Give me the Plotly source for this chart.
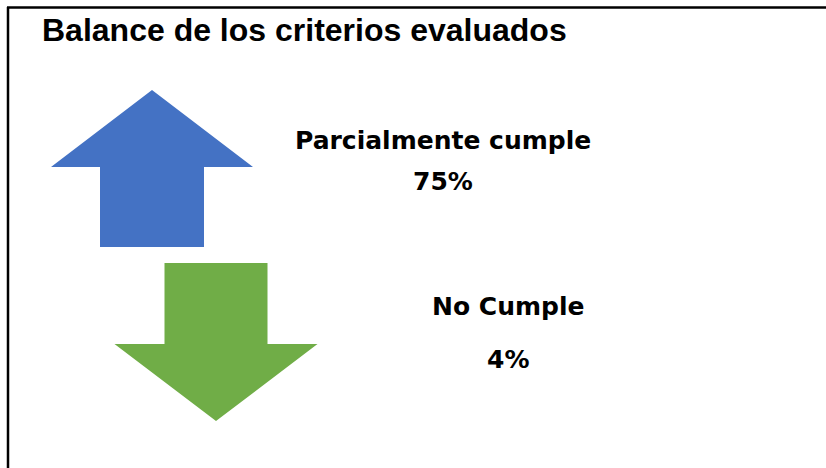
import plotly.graph_objects as go

# Data
categories = ["Parcialmente cumple", "No Cumple"]
values = [75, 4]
directions = ["up", "down"]
title_text = "Balance de los criterios evaluados"

# Styles / layout
colors = ["#4472C4", "#70AD47"]
W, H = 826, 468
# arrow geometry: (center x, tip y, base y, head base y, head half width, shaft half width)
arrow_geom = [
    (152, 90, 247, 167, 101, 52),
    (216, 421, 263, 344, 101.5, 51.5),
]
label_pos = [((443, 140), (443, 181)), ((508, 306), (508, 359))]
label_font = dict(family="DejaVu Sans", size=25, color="black")

fig = go.Figure()
for cat, val, d, col, g in zip(categories, values, directions, colors, arrow_geom):
    cx, tip, base, hb, hw, sw = g
    xs = [cx, cx + hw, cx + sw, cx + sw, cx - sw, cx - sw, cx - hw, cx]
    ys = [tip, hb, hb, base, base, hb, hb, tip]
    fig.add_trace(go.Scatter(x=xs, y=ys, fill="toself", fillcolor=col,
                             mode="lines", line=dict(width=0, color=col),
                             hoverinfo="skip", showlegend=False, name=cat))

for cat, val, (p1, p2) in zip(categories, values, label_pos):
    fig.add_annotation(x=p1[0], y=p1[1], text=f"<b>{cat}</b>", showarrow=False,
                       font=label_font, xanchor="center", yanchor="middle")
    fig.add_annotation(x=p2[0], y=p2[1], text=f"<b>{val}%</b>", showarrow=False,
                       font=label_font, xanchor="center", yanchor="middle")

fig.add_annotation(x=40, y=30, text=f"<b>{title_text}</b>", showarrow=False,
                   font=dict(family="Liberation Sans", size=32, color="black"),
                   xanchor="left", yanchor="middle")

fig.add_shape(type="line", x0=7, x1=W, y0=7.5, y1=7.5, line=dict(color="black", width=2.5))
fig.add_shape(type="line", x0=8, x1=8, y0=7, y1=H, line=dict(color="black", width=2.5))

fig.update_layout(
    width=W, height=H, margin=dict(l=0, r=0, t=0, b=0),
    paper_bgcolor="white", plot_bgcolor="white",
    xaxis=dict(range=[0, W], visible=False, fixedrange=True),
    yaxis=dict(range=[H, 0], visible=False, fixedrange=True),
)
fig.write_html("out.html", config={"displayModeBar": False},
               post_script="document.body.style.margin='0';document.body.style.overflow='hidden';")
